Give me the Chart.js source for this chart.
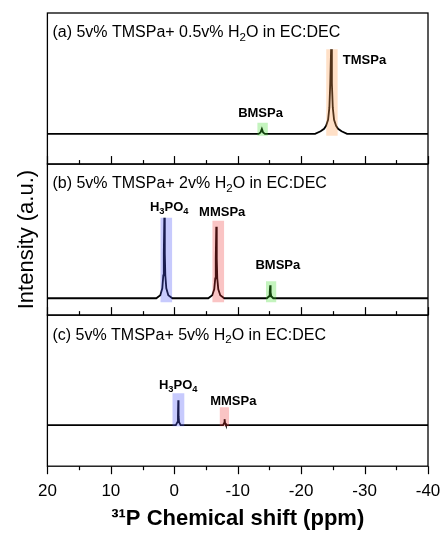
<!DOCTYPE html>
<html lang="en">
<head>
<meta charset="UTF-8">
<title>31P NMR of TMSPa with water</title>
<script src="https://cdn.jsdelivr.net/npm/chart.js"></script>
<style>
  html, body { margin: 0; padding: 0; background: #fff; }
  canvas { display: block; }
</style>
</head>
<body>
<canvas id="nmr" width="441" height="535"></canvas>
<script>
// ppm axis (drawn high -> low)
const xTicks = [20, 10, 0, -10, -20, -30, -40];
const xMinor = [15, 5, -5, -15, -25, -35];

// (a) 5v% TMSPa + 0.5v% H2O
const shiftA = [20, -13.3, -13.6, -13.81, -14.0, -14.3, -22.2, -23.07, -23.62, -23.93, -24.25, -24.45, -24.59, -24.72, -24.85, -24.99, -25.19, -25.51, -25.82, -26.37, -27.24, -40];
const intA   = [0, 0, 1.5, 5, 1.5, 0, 0, 2.5, 5, 8, 14, 26, 50, 84, 50, 26, 14, 8, 5, 2.5, 0, 0];

// (b) 5v% TMSPa + 2v% H2O
const shiftB = [20, 2.83, 2.2, 1.885, 1.73, 1.65, 1.57, 1.49, 1.41, 1.255, 0.94, 0.31, -5.36, -5.99, -6.3, -6.46, -6.54, -6.62, -6.70, -6.78, -6.94, -7.25, -7.88, -14.6, -14.95, -15.05, -15.12, -15.19, -15.29, -15.6, -40];
const intB   = [0, 0, 3, 10, 23, 45, 81, 45, 23, 10, 3, 0, 0, 3, 9, 20, 40, 72, 40, 20, 9, 3, 0, 0, 2, 6, 13, 6, 2, 0, 0];

// (c) 5v% TMSPa + 5v% H2O
const shiftC = [20, -0.25, -0.5, -0.58, -0.63, -0.68, -0.76, -1.0, -7.7, -7.85, -7.93, -8.01, -8.15, -40];
const intC   = [0, 0, 3, 9, 25, 9, 3, 0, 0, 2, 6, 2, 0, 0];

// shaded bands: species, from ppm, to ppm, bottom, top
const bandsA = [['BMSPa', -13.08, -14.76, -2, 11], ['TMSPa', -23.94, -25.78, -2, 84]];
const bandsB = [['H3PO4', 2.2, 0.31, -4, 81], ['MMSPa', -5.99, -7.88, -4, 78], ['BMSPa', -14.44, -16.11, -4, 17]];
const bandsC = [['H3PO4', 0.31, -1.62, -1, 32], ['MMSPa', -7.14, -8.66, -1, 18]];

const panelTitles = ['(a) 5v% TMSPa+ 0.5v% H_2O in EC:DEC', '(b) 5v% TMSPa+ 2v% H_2O in EC:DEC', '(c) 5v% TMSPa+ 5v% H_2O in EC:DEC'];

// peak labels placed in data units of each panel
const peakLabels = {
  ya: [['TMSPa', -26.57, 73, 'left'], ['BMSPa', -13.6, 20]],
  yb: [['H_3PO_4', 0.79, 91], ['MMSPa', -7.56, 86], ['BMSPa', -16.33, 33.5]],
  yc: [['H_3PO_4', -0.63, 40], ['MMSPa', -9.3, 24]]
};

const bandColors = {
  TMSPa: 'rgba(255,160,80,0.32)',
  BMSPa: 'rgba(60,220,40,0.30)',
  H3PO4: 'rgba(80,90,250,0.32)',
  MMSPa: 'rgba(240,60,60,0.30)'
};

const FONT = 'Arial, "Liberation Sans", sans-serif';
const panels = ['ya', 'yb', 'yc'];

function spectrum(xs, ys, axis) {
  return {
    data: xs.map((x, i) => ({x: x, y: ys[i]})),
    yAxisID: axis,
    borderColor: '#000',
    borderWidth: 1.8,
    pointRadius: 0,
    fill: false,
    order: 2
  };
}

function bands(rows, axis) {
  return rows.map(r => ({
    data: [{x: r[1], y: r[4]}, {x: r[2], y: r[4]}],
    yAxisID: axis,
    borderWidth: 0,
    pointRadius: 0,
    backgroundColor: bandColors[r[0]],
    fill: {value: r[3]},
    order: 1
  }));
}

// text with "_x" subscripts
function drawRich(ctx, str, x, y, size, bold, align) {
  const parts = [];
  for (let i = 0; i < str.length; i++) {
    if (str[i] === '_') {
      parts.push({t: str[i + 1], sub: true});
      i++;
    } else if (parts.length && !parts[parts.length - 1].sub) {
      parts[parts.length - 1].t += str[i];
    } else {
      parts.push({t: str[i], sub: false});
    }
  }
  const w = bold ? 'bold ' : '';
  let total = 0;
  parts.forEach(p => {
    ctx.font = w + (p.sub ? size * 0.72 : size) + 'px ' + FONT;
    p.w = ctx.measureText(p.t).width;
    total += p.w;
  });
  let cx = align === 'left' ? x : x - total / 2;
  ctx.textAlign = 'left';
  ctx.textBaseline = 'middle';
  parts.forEach(p => {
    ctx.font = w + (p.sub ? size * 0.72 : size) + 'px ' + FONT;
    ctx.fillText(p.t, cx, p.sub ? y + size * 0.3 : y);
    cx += p.w;
  });
}

const frames = {
  id: 'frames',
  afterDatasetsDraw(chart) {
    const ctx = chart.ctx;
    const xs = chart.scales.x;
    const {left, right} = chart.chartArea;
    ctx.save();
    ctx.strokeStyle = '#000';
    ctx.fillStyle = '#000';
    panels.forEach((id, i) => {
      const s = chart.scales[id];
      ctx.lineWidth = 1.3;
      ctx.strokeRect(left, s.top, right - left, s.bottom - s.top);
      // ticks on the bottom edge: inside for (a),(b), outside for (c)
      const dir = id === 'yc' ? 1 : -1;
      ctx.lineWidth = 1.2;
      const tick = (v, len) => {
        const px = Math.round(xs.getPixelForValue(v)) + 0.5;
        ctx.beginPath();
        ctx.moveTo(px, s.bottom);
        ctx.lineTo(px, s.bottom + dir * len);
        ctx.stroke();
      };
      xTicks.forEach(v => tick(v, 8));
      xMinor.forEach(v => tick(v, 4));

      drawRich(ctx, panelTitles[i], left + 5, s.top + 20, 16, false, 'left');
      peakLabels[id].forEach(l => {
        drawRich(ctx, l[0], xs.getPixelForValue(l[1]), s.getPixelForValue(l[2]), 13, true, l[3] || 'center');
      });
    });
    ctx.restore();
  }
};

function yAxis(min, max, title) {
  const ax = {
    type: 'linear',
    position: 'left',
    stack: 'nmr',
    stackWeight: 1,
    min: min,
    max: max,
    ticks: {display: false},
    grid: {display: false, drawTicks: false},
    border: {display: false}
  };
  if (title) {
    ax.title = {display: true, text: title, color: '#000', font: {size: 22, family: FONT}, padding: {top: 14, bottom: 7}};
  }
  return ax;
}

new Chart(document.getElementById('nmr'), {
  type: 'line',
  data: {
    datasets: [
      spectrum(shiftA, intA, 'ya'),
      spectrum(shiftB, intB, 'yb'),
      spectrum(shiftC, intC, 'yc'),
      ...bands(bandsA, 'ya'),
      ...bands(bandsB, 'yb'),
      ...bands(bandsC, 'yc')
    ]
  },
  options: {
    responsive: false,
    animation: false,
    devicePixelRatio: 1,
    layout: {padding: {left: 0, right: 0, top: 13, bottom: 0}},
    plugins: {legend: {display: false}, tooltip: {enabled: false}},
    scales: {
      x: {
        type: 'linear',
        reverse: true,
        min: -40,
        max: 20,
        afterBuildTicks: axis => { axis.ticks = xTicks.map(v => ({value: v})); },
        afterFit: axis => { axis.paddingRight = 13; },
        ticks: {autoSkip: false, maxRotation: 0, padding: 15, color: '#000', font: {size: 17, family: FONT}},
        grid: {display: false, drawTicks: false},
        border: {display: false},
        title: {display: true, text: '³¹P Chemical shift (ppm)', color: '#000', font: {size: 22, weight: 'bold', family: FONT}, padding: {top: -11, bottom: 3}}
      },
      yc: yAxis(-41, 110),
      yb: yAxis(-17, 135, 'Intensity (a.u.)'),
      ya: yAxis(-30, 120)
    }
  },
  plugins: [frames]
});
</script>
</body>
</html>
